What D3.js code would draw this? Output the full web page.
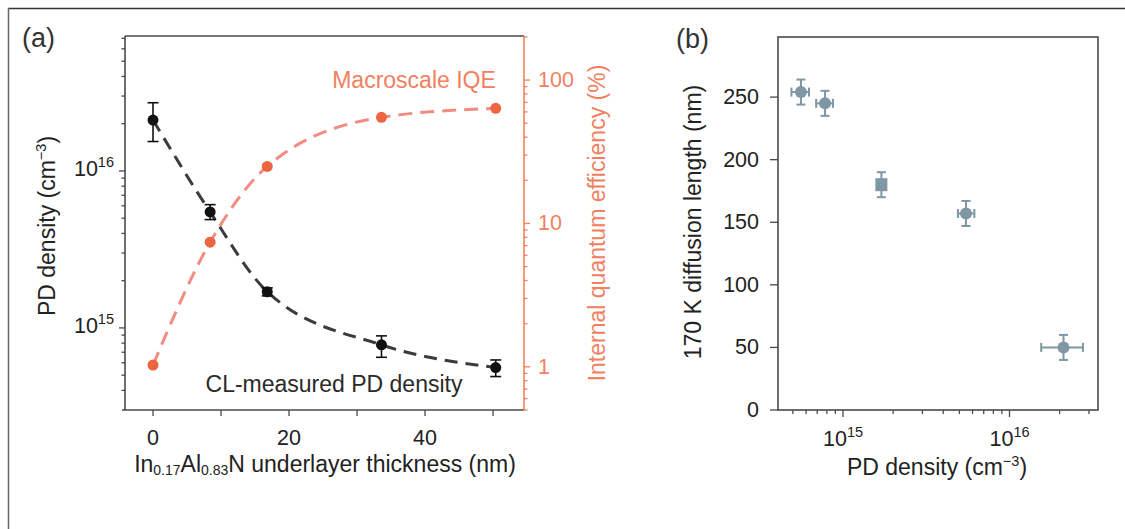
<!DOCTYPE html>
<html>
<head>
<meta charset="utf-8">
<script src="https://cdn.jsdelivr.net/npm/d3@7"></script>
<style>
  html, body { margin: 0; padding: 0; background: #fff; }
  svg { display: block; font-family: "Liberation Sans", Arial, sans-serif; }
</style>
</head>
<body>
<svg id="fig" width="1125" height="529"></svg>
<script>
// Panel (a): point-defect density and IQE versus underlayer thickness
const thickness   = [0, 8.4, 16.8, 33.6, 50.4];
const pdDensity   = [2.11e16, 5.48e15, 1.70e15, 7.8e14, 5.59e14];
const pdErrLow    = [1.54e16, 4.9e15, 1.60e15, 6.5e14, 4.9e14];
const pdErrHigh   = [2.72e16, 6.1e15, 1.80e15, 8.9e14, 6.25e14];
const iqe         = [1.03, 7.4, 25, 55, 63.5];

// Panel (b): 170 K diffusion length versus PD density
const diffLength  = [254, 245, 180, 157, 50];
const diffErr     = [10, 10, 10, 10, 10];
const bDensity    = [5.59e14, 7.8e14, 1.70e15, 5.48e15, 2.11e16];
const bDensityLo  = [4.9e14, 6.9e14, 1.60e15, 4.9e15, 1.55e16];
const bDensityHi  = [6.25e14, 8.7e14, 1.80e15, 6.15e15, 2.76e16];
const bMarker     = ["circle", "circle", "square", "circle", "circle"];

// Tick values
const xTicksA     = [0, 10, 20, 30, 40, 50];
const xLabelsA    = [0, 20, 40];
const yMajorA     = [1e15, 1e16];
const yMinorA     = [4e14,5e14,6e14,7e14,8e14,9e14,2e15,3e15,4e15,5e15,6e15,7e15,8e15,9e15,2e16,3e16,4e16,5e16,6e16,7e16];
const rMajorA     = [1, 10, 100];
const rMinorA     = [0.5,0.6,0.7,0.8,0.9,2,3,4,5,6,7,8,9,20,30,40,50,60,70,80,90,200];
const yTicksB     = [0, 50, 100, 150, 200, 250];
const xMajorB     = [1e15, 1e16];
const xMinorB     = [5e14,6e14,7e14,8e14,9e14,2e15,3e15,4e15,5e15,6e15,7e15,8e15,9e15,2e16,3e16];

const C = {
  axis: "#4a4a4a",
  text: "#222",
  black: "#111",
  fitBlack: "#3b3b3b",
  red: "#ec6440",
  redAxis: "#f2805f",
  fitRed: "#f28c82",
  blue: "#7e97a3"
};
const FS_TICK = 21.5, FS_TITLE = 23, FS_SUP = 14.5;

const svg = d3.select("#fig");

// outer frame
svg.append("line").attr("x1", 8).attr("x2", 1125).attr("y1", 8.5).attr("y2", 8.5)
  .attr("stroke", "#333").attr("stroke-width", 1.5);
svg.append("line").attr("x1", 8.5).attr("x2", 8.5).attr("y1", 8).attr("y2", 529)
  .attr("stroke", "#666").attr("stroke-width", 1.5);

function powLabel(g, x, y, base, exp, anchor, size, color) {
  const t = g.append("text").attr("x", x).attr("y", y).attr("text-anchor", anchor)
    .attr("font-size", size).attr("fill", color || C.text);
  t.append("tspan").text(base);
  t.append("tspan").attr("font-size", FS_SUP).attr("dy", -size * 0.42).text(exp);
  return t;
}

function ticks(g, vals, pos, orient, len, color) {
  vals.forEach(v => {
    const p = pos(v);
    const l = g.append("line").attr("stroke", color).attr("stroke-width", 1.3);
    if (orient === "left") l.attr("x1", 0).attr("x2", -len).attr("y1", p).attr("y2", p);
    if (orient === "right") l.attr("x1", 0).attr("x2", len).attr("y1", p).attr("y2", p);
    if (orient === "bottom") l.attr("x1", p).attr("x2", p).attr("y1", 0).attr("y2", len);
  });
}

function cm3Title(sel) {
  sel.append("tspan").text("PD density (cm");
  sel.append("tspan").attr("font-size", FS_SUP).attr("dy", -9).text("\u22123");
  sel.append("tspan").attr("dy", 9).text(")");
}

// ---------- Panel (a) ----------
const A = { l: 125, r: 524, t: 36, b: 410 };
const xA = d3.scaleLinear().domain([-4.12, 54.56]).range([A.l, A.r]);
const yA = d3.scaleLog().domain([3.0e14, 7.24e16]).range([A.b, A.t]);
const yR = d3.scaleLog().domain([0.50, 203]).range([A.b, A.t]);

const ga = svg.append("g");

// frame lines
ga.append("line").attr("x1", A.l).attr("x2", A.r).attr("y1", A.t).attr("y2", A.t).attr("stroke", C.axis).attr("stroke-width", 1.6);
ga.append("line").attr("x1", A.l).attr("x2", A.l).attr("y1", A.t).attr("y2", A.b).attr("stroke", C.axis).attr("stroke-width", 1.6);
ga.append("line").attr("x1", A.l - 3).attr("x2", A.r).attr("y1", A.b).attr("y2", A.b).attr("stroke", C.axis).attr("stroke-width", 1.6);
ga.append("line").attr("x1", A.r).attr("x2", A.r).attr("y1", A.t).attr("y2", A.b).attr("stroke", C.redAxis).attr("stroke-width", 1.6);

// x axis ticks + labels
const gxA = ga.append("g").attr("transform", `translate(0,${A.b})`);
ticks(gxA, xTicksA, xA, "bottom", 6, C.axis);
xLabelsA.forEach(v => gxA.append("text").attr("x", xA(v)).attr("y", 35).attr("text-anchor", "middle")
  .attr("font-size", FS_TICK).attr("fill", C.text).text(v));

// left axis
const gyA = ga.append("g").attr("transform", `translate(${A.l},0)`);
ticks(gyA, yMajorA, yA, "left", 6, C.axis);
ticks(gyA, yMinorA, yA, "left", 3.5, C.axis);
yMajorA.forEach(v => powLabel(gyA, -11, yA(v) + 5, "10", Math.round(Math.log10(v)), "end", FS_TICK));

// right axis
const grA = ga.append("g").attr("transform", `translate(${A.r},0)`);
ticks(grA, rMajorA, yR, "right", 6, C.redAxis);
ticks(grA, rMinorA, yR, "right", 3.5, C.redAxis);
rMajorA.forEach(v => grA.append("text").attr("x", 14).attr("y", yR(v) + 7).attr("font-size", FS_TICK)
  .attr("fill", C.redAxis).text(v));

// axis titles
const ta = ga.append("text").attr("transform", "translate(55,226) rotate(-90)")
  .attr("text-anchor", "middle").attr("font-size", FS_TITLE).attr("fill", C.text);
cm3Title(ta);

ga.append("text").attr("transform", "translate(605,223) rotate(-90)")
  .attr("text-anchor", "middle").attr("font-size", FS_TITLE).attr("fill", C.redAxis)
  .text("Internal quantum efficiency (%)");

const txa = ga.append("text").attr("x", 325).attr("y", 472).attr("text-anchor", "middle")
  .attr("font-size", FS_TITLE).attr("fill", C.text);
txa.append("tspan").text("In");
txa.append("tspan").attr("font-size", 14).attr("dy", 3).text("0.17");
txa.append("tspan").attr("dy", -3).text("Al");
txa.append("tspan").attr("font-size", 14).attr("dy", 3).text("0.83");
txa.append("tspan").attr("dy", -3).text("N underlayer thickness (nm)");

// fit curves
const fitRed = d3.line().x((d, i) => xA(thickness[i])).y(d => yR(d)).curve(d3.curveMonotoneX);
ga.append("path").attr("d", fitRed(iqe)).attr("fill", "none").attr("stroke", C.fitRed)
  .attr("stroke-width", 3).attr("stroke-dasharray", "14,8");
const fitBlack = d3.line().x((d, i) => xA(thickness[i])).y(d => yA(d)).curve(d3.curveMonotoneX);
ga.append("path").attr("d", fitBlack(pdDensity)).attr("fill", "none").attr("stroke", C.fitBlack)
  .attr("stroke-width", 3).attr("stroke-dasharray", "13,8");

// IQE points
ga.selectAll(".iqe").data(iqe).join("circle")
  .attr("cx", (d, i) => xA(thickness[i])).attr("cy", d => yR(d)).attr("r", 5.5).attr("fill", C.red);

// PD density points with error bars
pdDensity.forEach((d, i) => {
  const x = xA(thickness[i]);
  const y0 = yA(pdErrLow[i]), y1 = yA(pdErrHigh[i]);
  ga.append("line").attr("x1", x).attr("x2", x).attr("y1", y0).attr("y2", y1).attr("stroke", C.black).attr("stroke-width", 1.6);
  [y0, y1].forEach(yy => ga.append("line").attr("x1", x - 5.5).attr("x2", x + 5.5).attr("y1", yy).attr("y2", yy)
    .attr("stroke", C.black).attr("stroke-width", 1.6));
  ga.append("circle").attr("cx", x).attr("cy", yA(d)).attr("r", 5.5).attr("fill", C.black);
});

// annotations
ga.append("text").attr("x", 414).attr("y", 88).attr("text-anchor", "middle").attr("font-size", FS_TITLE)
  .attr("fill", C.redAxis).text("Macroscale IQE");
ga.append("text").attr("x", 334).attr("y", 392).attr("text-anchor", "middle").attr("font-size", FS_TITLE)
  .attr("fill", "#2a2a2a").text("CL-measured PD density");
ga.append("text").attr("x", 22).attr("y", 47).attr("font-size", 27).attr("fill", "#333").text("(a)");

// ---------- Panel (b) ----------
const B = { l: 778, r: 1098, t: 37, b: 410 };
const xB = d3.scaleLog().domain([4.07e14, 3.4e16]).range([B.l, B.r]);
const yB = d3.scaleLinear().domain([0, 298]).range([B.b, B.t]);

const gb = svg.append("g");
gb.append("rect").attr("x", B.l).attr("y", B.t).attr("width", B.r - B.l).attr("height", B.b - B.t)
  .attr("fill", "none").attr("stroke", C.axis).attr("stroke-width", 1.6);

const gyB = gb.append("g").attr("transform", `translate(${B.l},0)`);
ticks(gyB, yTicksB, yB, "left", 8, C.axis);
yTicksB.forEach(v => gyB.append("text").attr("x", -19).attr("y", yB(v) + 7).attr("text-anchor", "end")
  .attr("font-size", FS_TICK).attr("fill", C.text).text(v));

const gxB = gb.append("g").attr("transform", `translate(0,${B.b})`);
ticks(gxB, xMajorB, xB, "bottom", 7, C.axis);
ticks(gxB, xMinorB, xB, "bottom", 4, C.axis);
xMajorB.forEach(v => powLabel(gxB, xB(v), 36, "10", Math.round(Math.log10(v)), "middle", FS_TICK));

gb.append("text").attr("transform", "translate(701,222) rotate(-90)").attr("text-anchor", "middle")
  .attr("font-size", FS_TITLE).attr("fill", C.text).text("170 K diffusion length (nm)");
const txb = gb.append("text").attr("x", 937).attr("y", 475).attr("text-anchor", "middle")
  .attr("font-size", FS_TITLE).attr("fill", C.text);
cm3Title(txb);

gb.append("text").attr("x", 676).attr("y", 48).attr("font-size", 27).attr("fill", "#333").text("(b)");

diffLength.forEach((d, i) => {
  const x = xB(bDensity[i]), y = yB(d);
  const y0 = yB(d - diffErr[i]), y1 = yB(d + diffErr[i]);
  const x0 = xB(bDensityLo[i]), x1 = xB(bDensityHi[i]);
  const st = { stroke: C.blue, w: 2 };
  gb.append("line").attr("x1", x).attr("x2", x).attr("y1", y0).attr("y2", y1).attr("stroke", st.stroke).attr("stroke-width", st.w);
  [y0, y1].forEach(yy => gb.append("line").attr("x1", x - 4.5).attr("x2", x + 4.5).attr("y1", yy).attr("y2", yy)
    .attr("stroke", st.stroke).attr("stroke-width", st.w));
  gb.append("line").attr("x1", x0).attr("x2", x1).attr("y1", y).attr("y2", y).attr("stroke", st.stroke).attr("stroke-width", st.w);
  [x0, x1].forEach(xx => gb.append("line").attr("x1", xx).attr("x2", xx).attr("y1", y - 4.5).attr("y2", y + 4.5)
    .attr("stroke", st.stroke).attr("stroke-width", st.w));
  if (bMarker[i] === "square") {
    gb.append("rect").attr("x", x - 6).attr("y", y - 6.5).attr("width", 12).attr("height", 13).attr("fill", C.blue);
  } else {
    gb.append("circle").attr("cx", x).attr("cy", y).attr("r", 6).attr("fill", C.blue);
  }
});
</script>
</body>
</html>
